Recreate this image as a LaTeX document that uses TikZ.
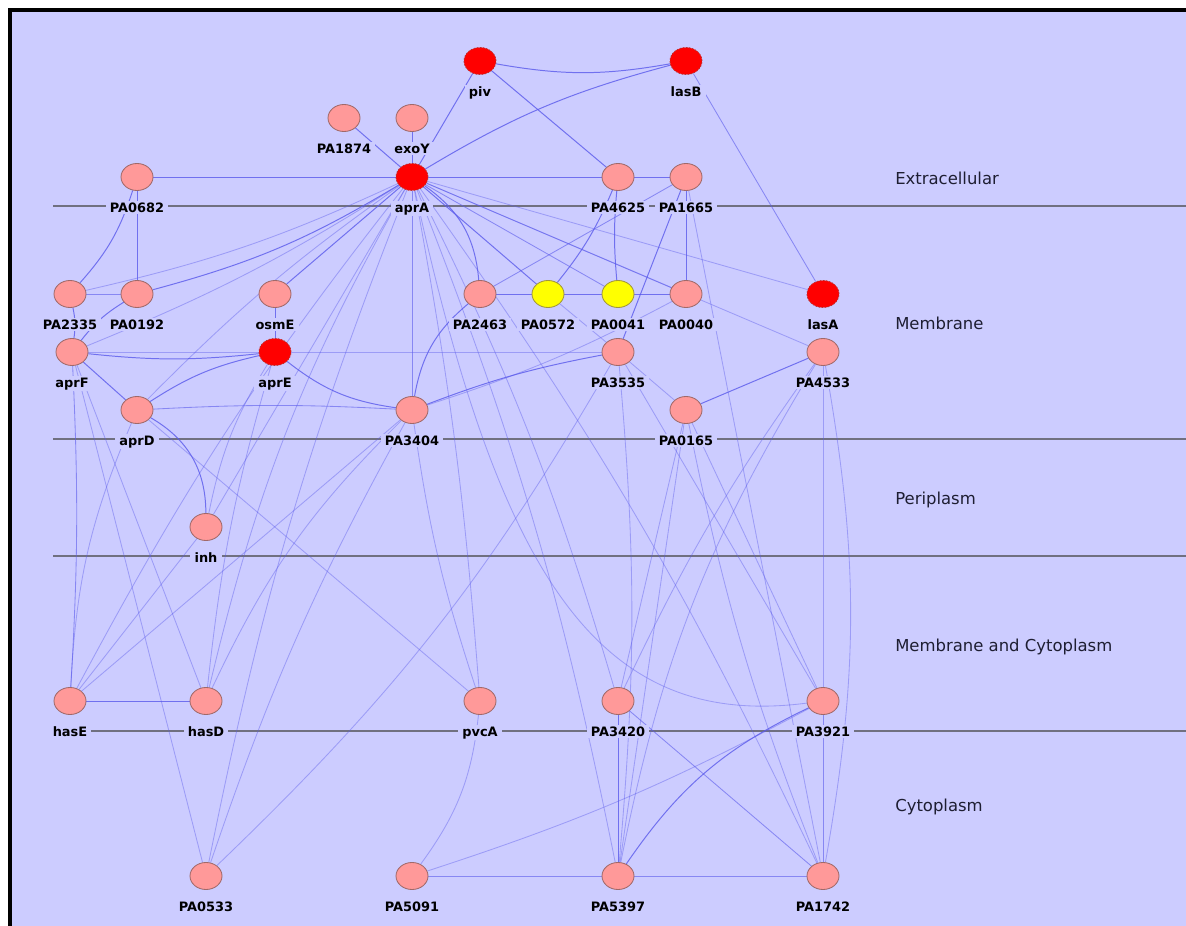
\documentclass[tikz,border=0pt]{standalone}
\usepackage{fontspec}
\setmainfont{DejaVu Sans}
\usetikzlibrary{shapes.geometric,backgrounds}

\definecolor{bg}{RGB}{204,204,255}
\definecolor{salmon}{RGB}{255,153,153}
\definecolor{salmonrim}{RGB}{160,105,105}
\definecolor{hotred}{RGB}{255,0,0}
\definecolor{hotrim}{RGB}{185,50,50}
\definecolor{lemon}{RGB}{255,255,0}
\definecolor{lemonrim}{RGB}{160,150,60}
\definecolor{link}{RGB}{90,90,235}
\definecolor{layerline}{RGB}{112,112,128}

\tikzset{
  gene/.style={ellipse, draw=salmonrim, fill=salmon, line width=0.6pt,
    minimum width=0.8cm, minimum height=0.675cm, inner sep=0pt,
    label={[glab]below:#1}},
  hub/.style={fill=hotred, draw=hotrim, dash pattern=on 1.2pt off 1pt},
  core/.style={fill=lemon, draw=lemonrim},
  glab/.style={font=\bfseries\fontsize{9.2}{10}\selectfont, fill=bg,
    inner xsep=3pt, inner ysep=1pt, yshift=-7.3pt},
  region/.style={font=\fontsize{11.7}{13}\selectfont, text={rgb,255:red,30;green,30;blue,50},
    anchor=base west, inner sep=0pt},
  edge/.style={draw=link, line width=0.7pt, opacity=0.8},
  medge/.style={draw=link, line width=0.6pt, opacity=0.6},
  fedge/.style={draw=link, line width=0.6pt, opacity=0.42},
  sepline/.style={draw=layerline, line width=1.4pt}
}

\begin{document}
\begin{tikzpicture}[x=0.025cm,y=-0.025cm]
  \useasboundingbox (0,0) rectangle (1186,926);

  % extracellular
  \node[gene=piv, hub]    (piv)    at (480,61)  {};
  \node[gene=lasB, hub]   (lasB)   at (686,61)  {};
  \node[gene=PA1874]      (PA1874) at (344,118) {};
  \node[gene=exoY]        (exoY)   at (412,118) {};
  \node[gene=PA0682]      (PA0682) at (137,177) {};
  \node[gene=aprA, hub]   (aprA)   at (412,177) {};
  \node[gene=PA4625]      (PA4625) at (618,177) {};
  \node[gene=PA1665]      (PA1665) at (686,177) {};
  % membrane
  \node[gene=PA2335]      (PA2335) at (70,294)  {};
  \node[gene=PA0192]      (PA0192) at (137,294) {};
  \node[gene=osmE]        (osmE)   at (275,294) {};
  \node[gene=PA2463]      (PA2463) at (480,294) {};
  \node[gene=PA0572, core] (PA0572) at (548,294) {};
  \node[gene=PA0041, core] (PA0041) at (618,294) {};
  \node[gene=PA0040]      (PA0040) at (686,294) {};
  \node[gene=lasA, hub]   (lasA)   at (823,294) {};
  \node[gene=aprF]        (aprF)   at (72,352)  {};
  \node[gene=aprE, hub]   (aprE)   at (275,352) {};
  \node[gene=PA3535]      (PA3535) at (618,352) {};
  \node[gene=PA4533]      (PA4533) at (823,352) {};
  \node[gene=aprD]        (aprD)   at (137,410) {};
  \node[gene=PA3404]      (PA3404) at (412,410) {};
  \node[gene=PA0165]      (PA0165) at (686,410) {};
  % periplasm
  \node[gene=inh]         (inh)    at (206,527) {};
  % membrane and cytoplasm
  \node[gene=hasE]        (hasE)   at (70,701)  {};
  \node[gene=hasD]        (hasD)   at (206,701) {};
  \node[gene=pvcA]        (pvcA)   at (480,701) {};
  \node[gene=PA3420]      (PA3420) at (618,701) {};
  \node[gene=PA3921]      (PA3921) at (823,701) {};
  % cytoplasm
  \node[gene=PA0533]      (PA0533) at (206,876) {};
  \node[gene=PA5091]      (PA5091) at (412,876) {};
  \node[gene=PA5397]      (PA5397) at (618,876) {};
  \node[gene=PA1742]      (PA1742) at (823,876) {};

  % compartment names
  \node[region] (extra) at (895,185) {Extracellular};
  \node[region] (memb)  at (895,330) {Membrane};
  \node[region] (peri)  at (895,504) {Periplasm};
  \node[region] (mcyto) at (895,651) {Membrane and Cytoplasm};
  \node[region] (cyto)  at (895,811) {Cytoplasm};

  \begin{pgfonlayer}{background}
    \fill[white] (0,0) rectangle (1186,926);
    \fill[black] (8,8) rectangle (1186,926);
    \fill[bg] (12,12) rectangle (1186,926);
    \foreach \yy in {206,439,556,731}
      \draw[sepline] (53,\yy) -- (1186,\yy);

    % strong links
    \draw[edge] (piv) -- (aprA);
    \draw[edge] (piv) to[bend right=10] (lasB);
    \draw[edge] (piv) -- (PA4625);
    \draw[edge] (aprA) to[bend left=8] (lasB);
    \draw[medge] (lasB) -- (lasA);
    \draw[edge] (PA1874) -- (aprA);
    \draw[edge] (exoY) -- (aprA);
    \draw[edge] (PA0682) -- (aprA);
    \draw[edge] (aprA) -- (PA4625);
    \draw[edge] (PA4625) -- (PA1665);
    \draw[edge] (PA0682) to[bend left=12] (PA2335);
    \draw[edge] (PA0682) -- (PA0192);
    \draw[medge] (PA2335) -- (PA0192);
    \draw[edge] (PA2335) to[bend left=10] (aprF);
    \draw[edge] (PA0192) to[bend right=10] (aprF);
    \draw[edge] (PA0192) to[bend right=8] (aprA);
    \draw[edge] (osmE) -- (aprE);
    \draw[edge] (osmE) -- (aprA);
    \draw[edge] (aprF) to[bend right=6] (aprE);
    \draw[edge] (aprF) -- (aprD);
    \draw[edge] (aprD) to[bend left=10] (aprE);
    \draw[medge] (aprD) to[bend left=3] (PA3404);
    \draw[edge] (aprE) to[bend right=15] (PA3404);
    \draw[edge] (aprD) to[bend left=30] (inh);
    \draw[edge] (aprA) to[bend left=25] (PA2463);
    \draw[edge] (aprA) -- (PA0572);
    \draw[medge] (aprA) -- (PA0041);
    \draw[medge] (aprA) -- (PA0040);
    \draw[edge] (PA2463) -- (PA0572) -- (PA0041) -- (PA0040);
    \draw[medge] (PA2463) -- (PA1665);
    \draw[edge] (PA4625) to[bend left=8] (PA0572);
    \draw[edge] (PA4625) to[bend right=5] (PA0041);
    \draw[edge] (PA1665) -- (PA0040);
    \draw[edge] (PA1665) -- (PA3535);
    \draw[edge] (PA2463) to[bend right=20] (PA3404);
    \draw[edge] (PA3404) to[bend left=5] (PA3535);
    \draw[edge] (PA0165) -- (PA4533);
    \draw[medge] (aprA) -- (PA3404);
    \draw[edge] (hasE) -- (hasD);
    \draw[medge] (aprF) to[bend left=3] (hasE);
    \draw[edge] (PA3420) -- (PA5397);
    \draw[medge] (PA3921) -- (PA1742);
    \draw[edge] (PA3921) to[bend right=15] (PA5397);
    \draw[medge] (PA5397) -- (PA1742);
    \draw[medge] (PA5091) -- (PA5397);
    \draw[medge] (PA3420) -- (PA1742);

    % faint links
    \draw[fedge] (aprF) -- (PA3535);
    \draw[fedge] (aprF) to[bend right=5] (aprA);
    \draw[fedge] (PA2335) to[bend right=6] (aprA);
    \draw[fedge] (aprA) to[bend right=5] (aprD);
    \draw[fedge] (inh) to[bend left=10] (aprE);
    \draw[fedge] (inh) -- (aprA);
    \draw[fedge] (aprA) -- (lasA);
    \draw[fedge] (aprA) -- (PA4533);
    \draw[fedge] (PA0572) -- (PA3535);
    \draw[fedge] (PA3404) to[bend right=5] (PA0040);
    \draw[fedge] (PA3535) -- (PA0165);
    \draw[fedge] (aprF) -- (hasD);
    \draw[fedge] (aprF) -- (PA0533);
    \draw[fedge] (aprD) to[bend right=10] (hasE);
    \draw[fedge] (aprD) -- (pvcA);
    \draw[fedge] (aprE) to[bend right=5] (hasD);
    \draw[fedge] (aprA) to[bend right=8] (hasD);
    \draw[fedge] (aprA) to[bend right=5] (hasE);
    \draw[fedge] (hasE) -- (inh);
    \draw[fedge] (hasE) -- (PA3404);
    \draw[fedge] (hasD) to[bend left=10] (PA3404);
    \draw[fedge] (PA0533) to[bend left=5] (PA3404);
    \draw[fedge] (PA0533) to[bend left=5] (aprA);
    \draw[fedge] (PA0533) to[bend right=8] (PA3535);
    \draw[fedge] (PA3404) to[bend right=5] (pvcA);
    \draw[fedge] (aprA) to[bend left=3] (pvcA);
    \draw[fedge] (pvcA) to[bend left=15] (PA5091);
    \draw[fedge] (PA5091) to[bend right=5] (PA3921);
    \draw[fedge] (aprA) to[bend left=5] (PA3420);
    \draw[fedge] (aprA) to[bend left=5] (PA5397);
    \draw[fedge] (aprA) .. controls (500,580) and (600,730) .. (PA3921);
    \draw[fedge] (aprA) to[bend left=5] (PA1742);
    \draw[fedge] (PA0165) -- (PA3420);
    \draw[fedge] (PA0165) -- (PA5397);
    \draw[fedge] (PA0165) -- (PA3921);
    \draw[fedge] (PA0165) to[bend right=5] (PA1742);
    \draw[fedge] (PA3535) -- (PA3921);
    \draw[fedge] (PA3535) to[bend left=5] (PA5397);
    \draw[fedge] (PA4533) to[bend right=10] (PA5397);
    \draw[fedge] (PA4533) to[bend right=5] (PA3420);
    \draw[fedge] (PA4533) -- (PA3921);
    \draw[fedge] (PA4533) to[bend left=10] (PA1742);
    \draw[fedge] (PA1665) -- (PA1742);
  \end{pgfonlayer}
\end{tikzpicture}
\end{document}
